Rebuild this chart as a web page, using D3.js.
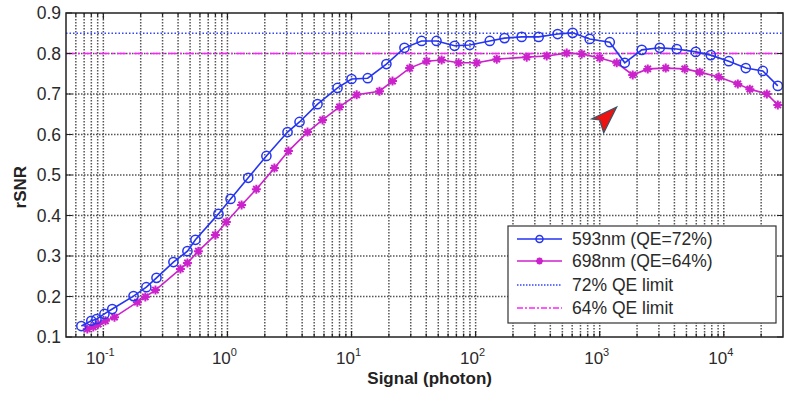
<!DOCTYPE html>
<html>
<head>
<meta charset="utf-8">
<script src="https://cdn.jsdelivr.net/npm/d3@7"></script>
<style>
  body { margin: 0; background: #fff; }
  svg { display: block; font-family: Arial, "Liberation Sans", sans-serif; }
</style>
</head>
<body>
<div id="chart"></div>
<script>
// data
const signal593 = [0.0665, 0.080, 0.088, 0.102, 0.118, 0.175, 0.222, 0.268, 0.367, 0.476, 0.552, 0.846, 1.06, 1.47, 2.06, 3.05, 3.81, 5.32, 7.71, 10.0, 13.5, 19.1, 26.7, 36.7, 48.4, 67.7, 89.5, 130, 171, 235, 322, 458, 605, 830, 1205, 1592, 2183, 3048, 4180, 5946, 7855, 10970, 15040, 20630, 27240];
const rsnr593 = [0.127, 0.140, 0.144, 0.157, 0.169, 0.201, 0.223, 0.246, 0.285, 0.312, 0.340, 0.404, 0.441, 0.493, 0.547, 0.606, 0.631, 0.675, 0.715, 0.737, 0.739, 0.774, 0.814, 0.831, 0.831, 0.819, 0.821, 0.831, 0.838, 0.841, 0.841, 0.848, 0.851, 0.836, 0.828, 0.777, 0.809, 0.814, 0.811, 0.804, 0.796, 0.781, 0.764, 0.757, 0.720];

const signal698 = [0.0743, 0.083, 0.091, 0.104, 0.123, 0.188, 0.218, 0.263, 0.418, 0.476, 0.583, 0.80, 0.98, 1.30, 1.71, 2.39, 3.10, 4.42, 5.84, 8.0, 11.0, 16.8, 21.4, 29.4, 40.3, 53.2, 72.9, 102, 148, 258, 374, 542, 716, 1000, 1371, 1845, 2438, 3404, 4842, 6400, 9120, 12970, 16200, 22230, 27240];
const rsnr698 = [0.120, 0.125, 0.132, 0.140, 0.149, 0.186, 0.199, 0.216, 0.268, 0.283, 0.312, 0.352, 0.384, 0.426, 0.465, 0.517, 0.559, 0.606, 0.636, 0.668, 0.698, 0.707, 0.732, 0.764, 0.781, 0.784, 0.777, 0.777, 0.786, 0.791, 0.794, 0.801, 0.799, 0.789, 0.777, 0.747, 0.762, 0.764, 0.762, 0.754, 0.742, 0.725, 0.712, 0.700, 0.673];

const limit72 = 0.85;
const limit64 = 0.80;

const yTicks = [0.1, 0.2, 0.3, 0.4, 0.5, 0.6, 0.7, 0.8, 0.9];
const xTickExps = [-1, 0, 1, 2, 3, 4];
const legendLabels = ["593nm (QE=72%)", "698nm (QE=64%)", "72% QE limit", "64% QE limit"];

const W = 787, H = 393;
const margin = { top: 13, right: 4, bottom: 56, left: 66 };
const width = W - margin.left - margin.right;
const height = H - margin.top - margin.bottom;

const blue = "#2535f0";
const magenta = "#cc22cc";

const svg = d3.select("#chart").append("svg")
    .attr("width", W)
    .attr("height", H);

const g = svg.append("g")
    .attr("transform", `translate(${margin.left},${margin.top})`);

const x = d3.scaleLog().domain([0.05, 30000]).range([0, width]);
const y = d3.scaleLinear().domain([0.1, 0.9]).range([height, 0]);

// minor + major log grid
let xGrid = [];
for (let e = -2; e <= 4; e++) {
    for (let k = 1; k <= 9; k++) {
        const v = k * Math.pow(10, e);
        if (v > 0.05 && v < 30000) xGrid.push(v);
    }
}

g.append("g").selectAll("line").data(xGrid).enter().append("line")
    .attr("x1", d => x(d)).attr("x2", d => x(d))
    .attr("y1", 0).attr("y2", height)
    .attr("stroke", "#555").attr("stroke-width", 1.5)
    .attr("stroke-dasharray", "1.5,1.5");

g.append("g").selectAll("line").data(yTicks.slice(1, -1)).enter().append("line")
    .attr("x1", 0).attr("x2", width)
    .attr("y1", d => y(d)).attr("y2", d => y(d))
    .attr("stroke", "#555").attr("stroke-width", 1.5)
    .attr("stroke-dasharray", "1.5,1.5");

// limit lines
g.append("line")
    .attr("x1", 0).attr("x2", width)
    .attr("y1", y(limit72)).attr("y2", y(limit72))
    .attr("stroke", "#3344ff").attr("stroke-width", 1.3)
    .attr("stroke-dasharray", "1.5,2");

g.append("line")
    .attr("x1", 0).attr("x2", width)
    .attr("y1", y(limit64)).attr("y2", y(limit64))
    .attr("stroke", "#ff22ff").attr("stroke-width", 1.5)
    .attr("stroke-dasharray", "9,3,2,3");

// series
const line = d3.line().x(d => x(d[0])).y(d => y(d[1]));
const data593 = signal593.map((s, i) => [s, rsnr593[i]]);
const data698 = signal698.map((s, i) => [s, rsnr698[i]]);

g.append("path").datum(data698)
    .attr("d", line).attr("fill", "none")
    .attr("stroke", magenta).attr("stroke-width", 1.6);

function star(sel, r) {
    sel.append("path")
        .attr("d", `M${-r},0L${r},0M0,${-r}L0,${r}M${-r * 0.7},${-r * 0.7}L${r * 0.7},${r * 0.7}M${-r * 0.7},${r * 0.7}L${r * 0.7},${-r * 0.7}`)
        .attr("stroke", magenta).attr("stroke-width", 2).attr("fill", "none");
}

g.append("g").selectAll("g").data(data698).enter().append("g")
    .attr("transform", d => `translate(${x(d[0])},${y(d[1])})`)
    .call(star, 4.5);

g.append("path").datum(data593)
    .attr("d", line).attr("fill", "none")
    .attr("stroke", blue).attr("stroke-width", 1.6);

g.append("g").selectAll("circle").data(data593).enter().append("circle")
    .attr("cx", d => x(d[0])).attr("cy", d => y(d[1]))
    .attr("r", 4.6)
    .attr("fill", "none").attr("stroke", blue).attr("stroke-width", 1.5);

// frame
g.append("rect")
    .attr("width", width).attr("height", height)
    .attr("fill", "none").attr("stroke", "#222").attr("stroke-width", 1.5);

// inward ticks
const majorX = xTickExps.map(e => Math.pow(10, e));
g.append("g").selectAll("path").data(xGrid).enter().append("path")
    .attr("d", d => {
        const len = majorX.includes(d) ? 6 : 3.5;
        return `M${x(d)},${height}v${-len}M${x(d)},0v${len}`;
    })
    .attr("stroke", "#222").attr("stroke-width", 1.2);
g.append("g").selectAll("path").data(yTicks).enter().append("path")
    .attr("d", d => `M0,${y(d)}h6M${width},${y(d)}h-6`)
    .attr("stroke", "#222").attr("stroke-width", 1.2);

// y tick labels
g.append("g").selectAll("text").data(yTicks).enter().append("text")
    .attr("x", -5).attr("y", d => y(d))
    .attr("dy", "0.36em")
    .attr("text-anchor", "end")
    .attr("font-size", 17.5)
    .attr("fill", "#2a2a2a")
    .text(d3.format(".1f"));

// x tick labels 10^e
const xl = g.append("g").selectAll("text").data(xTickExps).enter().append("text")
    .attr("x", e => x(Math.pow(10, e)) - 3)
    .attr("y", height + 27)
    .attr("text-anchor", "middle")
    .attr("font-size", 17)
    .attr("fill", "#2a2a2a");
xl.append("tspan").text("10");
xl.append("tspan")
    .attr("font-size", 11)
    .attr("dy", -8)
    .text(e => e);

// axis titles
svg.append("text")
    .attr("x", margin.left + x(100) - 46)
    .attr("y", H - 9)
    .attr("text-anchor", "middle")
    .attr("font-size", 17)
    .attr("font-weight", "bold")
    .attr("fill", "#222")
    .text("Signal (photon)");

svg.append("text")
    .attr("transform", `translate(26,${margin.top + y(0.47)}) rotate(-90)`)
    .attr("text-anchor", "middle")
    .attr("font-size", 17)
    .attr("font-weight", "bold")
    .attr("fill", "#222")
    .text("rSNR");

// red pointer annotation near the dip
const tipX = x(1371), tipY = y(0.668);
g.append("path")
    .attr("d", `M${tipX},${tipY}L${tipX - 25},${tipY + 12}L${tipX - 17},${tipY + 13}L${tipX - 13},${tipY + 26}Z`)
    .attr("fill", "#ee1111")
    .attr("stroke", "#335566").attr("stroke-width", 1.2);

// legend
const lg = svg.append("g").attr("transform", "translate(508,226)");
lg.append("rect")
    .attr("width", 268).attr("height", 97)
    .attr("fill", "#fff").attr("stroke", "#333").attr("stroke-width", 1.2);

const rowY = [13, 35, 59, 82];
const styles = [
    { stroke: blue, dash: null, mark: "circle" },
    { stroke: magenta, dash: null, mark: "star" },
    { stroke: "#3344ff", dash: "1.5,1.5", mark: null },
    { stroke: "#ff22ff", dash: "6,2,2,2", mark: null }
];
legendLabels.forEach((lab, i) => {
    const row = lg.append("g").attr("transform", `translate(0,${rowY[i]})`);
    const st = styles[i];
    row.append("line")
        .attr("x1", 9).attr("x2", 54)
        .attr("stroke", st.stroke).attr("stroke-width", 1.6)
        .attr("stroke-dasharray", st.dash);
    if (st.mark === "circle") {
        row.append("circle").attr("cx", 31.5).attr("r", 3.5)
            .attr("fill", "none").attr("stroke", blue).attr("stroke-width", 1.5);
    } else if (st.mark === "star") {
        row.append("g").attr("transform", "translate(31.5,0)").call(star, 3.5);
    }
    row.append("text")
        .attr("x", 64).attr("dy", "0.36em")
        .attr("font-size", 17.5)
        .attr("fill", "#2a2a2a")
        .text(lab);
});
</script>
</body>
</html>
